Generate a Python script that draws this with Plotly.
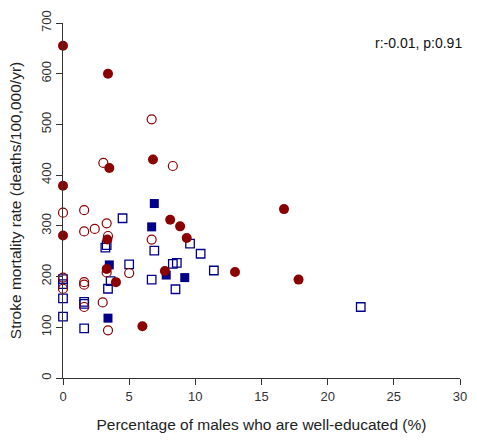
import plotly.graph_objects as go

# Filled dark-red circles
fc_x = [0, 3.4, 3.5, 6.8, 0, 0, 3.35, 3.3, 4.0, 6.0, 7.7, 8.1, 8.85, 9.35, 13.0, 16.7, 17.8]
fc_y = [655, 600, 414, 431, 379, 281, 273, 215, 189, 102, 211, 312, 299, 276, 209, 333, 194]

# Open dark-red circles
oc_x = [6.7, 3.05, 8.3, 0, 1.6, 1.6, 2.4, 3.3, 3.4, 3.3, 5.0, 6.7, 1.6, 1.6, 1.6, 3.0, 3.4, 0, 0]
oc_y = [510, 424, 418, 326, 331, 289, 294, 305, 280, 208, 207, 273, 189, 184, 140, 149, 94, 176, 198]

# Filled navy squares
fs_x = [6.9, 6.7, 7.8, 9.2, 3.5, 3.4]
fs_y = [344, 298, 203, 198, 223, 118]

# Open navy squares
os_x = [0, 0, 0, 0, 1.6, 1.6, 1.6, 3.3, 3.2, 3.6, 3.4, 4.5, 5.0, 6.9, 6.7, 9.6, 10.4, 8.3, 8.6, 11.4, 8.5, 22.5]
os_y = [195, 185, 157, 121, 150, 146, 98, 262, 257, 191, 176, 315, 224, 251, 194, 265, 245, 225, 227, 212, 175, 140]

x_ticks = [0, 5, 10, 15, 20, 25, 30]
y_ticks = [0, 100, 200, 300, 400, 500, 600, 700]

RED = "#8B0000"
NAVY = "#00008B"

fig = go.Figure()
fig.add_trace(go.Scatter(x=os_x, y=os_y, mode="markers", cliponaxis=False,
                         marker=dict(symbol="square-open", size=8.5, color=NAVY, line=dict(width=1.3))))
fig.add_trace(go.Scatter(x=oc_x, y=oc_y, mode="markers", cliponaxis=False,
                         marker=dict(symbol="circle-open", size=9, color=RED, line=dict(width=1.2))))
fig.add_trace(go.Scatter(x=fs_x, y=fs_y, mode="markers", cliponaxis=False,
                         marker=dict(symbol="square", size=9, color=NAVY, line=dict(width=0))))
fig.add_trace(go.Scatter(x=fc_x, y=fc_y, mode="markers", cliponaxis=False,
                         marker=dict(symbol="circle", size=10, color=RED, line=dict(width=0))))

axis_font = dict(family="Liberation Sans, Arial, sans-serif", size=13, color="#333")
fig.update_layout(
    width=477, height=441,
    margin=dict(l=63, r=10, t=17, b=63),
    paper_bgcolor="white", plot_bgcolor="white",
    showlegend=False,
    font=dict(family="Liberation Sans, Arial, sans-serif", color="#222"),
    xaxis=dict(range=[0, 30], tickvals=x_ticks, ticks="outside", ticklen=6, tickcolor="#333",
               showline=True, linecolor="#333", linewidth=1, showgrid=False, zeroline=False,
               tickfont=axis_font,
               title=dict(text="Percentage of males who are well-educated (%)",
                          font=dict(size=15.5, color="#222"), standoff=16)),
    yaxis=dict(range=[0, 700], tickvals=y_ticks, ticks="outside", ticklen=6, tickcolor="#333",
               showline=True, linecolor="#333", linewidth=1, showgrid=False, zeroline=False,
               tickangle=-90, tickfont=axis_font,
               title=dict(text="Stroke mortality rate (deaths/100,000/yr)",
                          font=dict(size=15.5, color="#222"), standoff=13)),
    annotations=[dict(text="r:-0.01, p:0.91", xref="paper", yref="paper", x=1.01, y=0.945,
                      xanchor="right", yanchor="middle", showarrow=False,
                      font=dict(size=14, color="#111"))],
)

fig.write_html("out.html")
